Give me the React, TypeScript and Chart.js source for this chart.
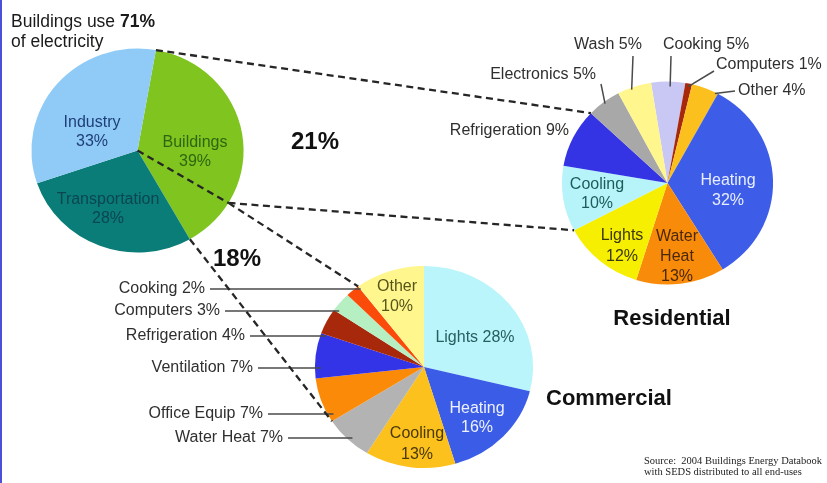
import React, { useEffect, useRef } from "react";
import { Chart, registerables } from "chart.js";

Chart.register(...registerables);

// ---------------- data ----------------
const electricityCategories = ["Buildings", "Transportation", "Industry"];
const electricityValues = [39, 28, 33];
const buildingsShare = 71;
const residentialShare = 21;
const commercialShare = 18;

const residentialCategories = [
  "Cooking", "Computers", "Other", "Heating", "Water Heat",
  "Lights", "Cooling", "Refrigeration", "Electronics", "Wash",
];
const residentialValues = [5, 1, 4, 32, 13, 12, 10, 9, 5, 5];

const commercialCategories = [
  "Lights", "Heating", "Cooling", "Water Heat", "Office Equip",
  "Ventilation", "Refrigeration", "Computers", "Cooking", "Other",
];
const commercialValues = [28, 16, 13, 7, 7, 7, 4, 3, 2, 10];

const sourceLines = [
  "Source:  2004 Buildings Energy Databook",
  "with SEDS distributed to all end-uses",
];

// ---------------- styles / layout ----------------
const W = 827;
const H = 483;
const SANS = '"Liberation Sans", Arial, Helvetica, sans-serif';
const SERIF = '"Liberation Serif", "Times New Roman", serif';

const mainColors = ["#7fc41f", "#0b7d79", "#8fcbf6"];
const residentialColors = [
  "#c9c8f4", "#a8280c", "#fbbf1e", "#3d5de8", "#f98b0a",
  "#f7ef02", "#b7f4f9", "#3434e4", "#a8a8a8", "#fff68e",
];
const commercialColors = [
  "#b9f5fa", "#3b5ce6", "#fcc11c", "#b3b3b3", "#fa8a08",
  "#3333e8", "#a8280c", "#b6efc2", "#fb4b0a", "#fff68e",
];

type Geom = { cx: number; cy: number; r: number; sx: number; rotation: number };
const mainGeom: Geom = { cx: 137.5, cy: 150.5, r: 102, sx: 1.04, rotation: 10 };
const resGeom: Geom = { cx: 667.5, cy: 183, r: 101.5, sx: 1.04, rotation: -9 };
const comGeom: Geom = { cx: 424, cy: 367, r: 101, sx: 1.08, rotation: 0 };

// fraction of the Buildings slice where the residential / commercial split line sits
const buildingsSplitFrac = 0.79;

type Inside = { x: number; y: number; lh: number; color: string; mode: "stack" | "line" | "words" };
type Outside = {
  x: number; y: number; align: CanvasTextAlign;
  leader?: { fx: number; fy: number; frac: number; inset: number };
  horizontal?: boolean;
};

const mainInside: Record<string, Inside> = {
  Industry: { x: 92, y: 132.5, lh: 19, color: "#1f3f78", mode: "stack" },
  Buildings: { x: 195, y: 152, lh: 18.5, color: "#2e6610", mode: "stack" },
  Transportation: { x: 108, y: 209, lh: 18.5, color: "#0a4650", mode: "stack" },
};

const resInside: Record<string, Inside> = {
  Heating: { x: 728, y: 191, lh: 20, color: "#e8eeff", mode: "stack" },
  Cooling: { x: 597, y: 194.5, lh: 19, color: "#1b5c5c", mode: "stack" },
  Lights: { x: 622, y: 246, lh: 21, color: "#3a3810", mode: "stack" },
  "Water Heat": { x: 677, y: 257, lh: 20, color: "#4a2808", mode: "words" },
};
const resOutside: Record<string, Outside> = {
  Refrigeration: { x: 569, y: 131, align: "right" },
  Electronics: { x: 596, y: 75, align: "right", leader: { fx: 601, fy: 84, frac: 0.5, inset: 2 } },
  Wash: { x: 608, y: 45, align: "center", leader: { fx: 633, fy: 56, frac: 0.4, inset: 2 } },
  Cooking: { x: 663, y: 45, align: "left", leader: { fx: 671, fy: 56, frac: 0.56, inset: 5 } },
  Computers: { x: 716, y: 65, align: "left", leader: { fx: 714, fy: 71, frac: 0.5, inset: 3 } },
  Other: { x: 738, y: 91, align: "left", leader: { fx: 735, fy: 91, frac: 0.9, inset: 1 } },
};

const comInside: Record<string, Inside> = {
  Other: { x: 397, y: 297, lh: 20, color: "#55551a", mode: "stack" },
  Lights: { x: 475, y: 338, lh: 20, color: "#285e60", mode: "line" },
  Heating: { x: 477, y: 418.5, lh: 19, color: "#eef2ff", mode: "stack" },
  Cooling: { x: 417, y: 444.5, lh: 21, color: "#4a3808", mode: "stack" },
};
const comOutside: Record<string, Outside> = {
  Cooking: { x: 205, y: 289, align: "right", horizontal: true },
  Computers: { x: 220, y: 311, align: "right", horizontal: true },
  Refrigeration: { x: 245, y: 336, align: "right", horizontal: true },
  Ventilation: { x: 253, y: 368, align: "right", horizontal: true },
  "Office Equip": { x: 263, y: 414, align: "right", horizontal: true },
  "Water Heat": { x: 283, y: 438, align: "right", horizontal: true },
};

// ---------------- helpers ----------------
type G = { cx: number; cy: number; R: number; sx: number; arcs: any[] };

function geo(chart: Chart, sx: number): G {
  const arcs = chart.getDatasetMeta(0).data as any[];
  return { cx: arcs[0].x, cy: arcs[0].y, R: arcs[0].outerRadius, sx, arcs };
}
function pointAt(g: G, angle: number, rr?: number) {
  const r = rr === undefined ? g.R : rr;
  return { x: g.cx + g.sx * r * Math.cos(angle), y: g.cy + r * Math.sin(angle) };
}
function sliceAngle(g: G, i: number, frac: number) {
  const a = g.arcs[i];
  return a.startAngle + frac * (a.endAngle - a.startAngle);
}
function drawLines(
  ctx: CanvasRenderingContext2D, lines: string[], x: number, y: number, lh: number,
  font: string, color: string, align: CanvasTextAlign = "center",
) {
  ctx.save();
  ctx.font = font;
  ctx.fillStyle = color;
  ctx.textAlign = align;
  ctx.textBaseline = "middle";
  const y0 = y - ((lines.length - 1) * lh) / 2;
  lines.forEach((t, i) => ctx.fillText(t, x, y0 + i * lh));
  ctx.restore();
}
function insideLines(name: string, value: number, mode: Inside["mode"]) {
  if (mode === "line") return [`${name} ${value}%`];
  if (mode === "words") return [...name.split(" "), `${value}%`];
  return [name, `${value}%`];
}

const ellipsePlugin = (sx: number) => ({
  id: "ellipse",
  beforeDatasetsDraw(chart: Chart) {
    const arc: any = chart.getDatasetMeta(0).data[0];
    const ctx = chart.ctx;
    ctx.save();
    ctx.translate(arc.x, 0);
    ctx.scale(sx, 1);
    ctx.translate(-arc.x, 0);
  },
  afterDatasetsDraw(chart: Chart) {
    chart.ctx.restore();
  },
});

function drawInside(ctx: CanvasRenderingContext2D, cats: string[], vals: number[], spec: Record<string, Inside>) {
  cats.forEach((c, i) => {
    const s = spec[c];
    if (!s) return;
    drawLines(ctx, insideLines(c, vals[i], s.mode), s.x, s.y, s.lh, `16px ${SANS}`, s.color);
  });
}

function drawOutside(ctx: CanvasRenderingContext2D, g: G, cats: string[], vals: number[], spec: Record<string, Outside>) {
  cats.forEach((c, i) => {
    const s = spec[c];
    if (!s) return;
    drawLines(ctx, [`${c} ${vals[i]}%`], s.x, s.y, 18, `16px ${SANS}`, "#2f2f2f", s.align);
    ctx.save();
    ctx.strokeStyle = "#4a4a4a";
    ctx.lineWidth = 1.5;
    ctx.beginPath();
    if (s.horizontal) {
      const dy = s.y - g.cy;
      const half = Math.sqrt(Math.max(g.R * g.R - dy * dy, 0)) * g.sx;
      ctx.moveTo(s.x + 5, s.y);
      ctx.lineTo(g.cx - half + 6, s.y);
      ctx.stroke();
    } else if (s.leader) {
      const p = pointAt(g, sliceAngle(g, i, s.leader.frac), g.R - s.leader.inset);
      ctx.moveTo(s.leader.fx, s.leader.fy);
      ctx.lineTo(p.x, p.y);
      ctx.stroke();
    }
    ctx.restore();
  });
}

function makePie(
  canvas: HTMLCanvasElement, gm: Geom, labels: string[], values: number[], colors: string[], plugins: any[],
) {
  const padding = {
    left: gm.cx - gm.r * gm.sx,
    right: W - gm.cx - gm.r * gm.sx,
    top: gm.cy - gm.r,
    bottom: H - gm.cy - gm.r,
  };
  return new Chart(canvas, {
    type: "pie",
    data: {
      labels,
      datasets: [
        {
          data: values,
          backgroundColor: colors,
          borderWidth: 0,
          hoverBorderWidth: 0,
          offset: 0,
          hoverOffset: 0,
          clip: false,
        } as any,
      ],
    },
    options: {
      responsive: false,
      maintainAspectRatio: false,
      animation: false,
      events: [],
      rotation: gm.rotation,
      layout: { padding },
      plugins: {
        legend: { display: false },
        tooltip: { enabled: false },
        title: { display: false },
      },
    } as any,
    plugins: [ellipsePlugin(gm.sx), ...plugins],
  });
}

const residentialPlugin = {
  id: "resLabels",
  afterDraw(chart: Chart) {
    const ctx = chart.ctx;
    const g = geo(chart, resGeom.sx);
    drawInside(ctx, residentialCategories, residentialValues, resInside);
    drawOutside(ctx, g, residentialCategories, residentialValues, resOutside);
    drawLines(ctx, ["Residential"], 672, 319, 24, `bold 22px ${SANS}`, "#111");
  },
};

const commercialPlugin = {
  id: "comLabels",
  afterDraw(chart: Chart) {
    const ctx = chart.ctx;
    const g = geo(chart, comGeom.sx);
    drawInside(ctx, commercialCategories, commercialValues, comInside);
    drawOutside(ctx, g, commercialCategories, commercialValues, comOutside);
    drawLines(ctx, ["Commercial"], 609, 399, 24, `bold 22px ${SANS}`, "#111");
  },
};

const mainPlugin = (res: Chart, com: Chart) => ({
  id: "mainLabels",
  afterDraw(chart: Chart) {
    const ctx = chart.ctx;
    const gm = geo(chart, mainGeom.sx);
    const gr = geo(res, resGeom.sx);
    const gc = geo(com, comGeom.sx);
    drawInside(ctx, electricityCategories, electricityValues, mainInside);

    // title
    ctx.save();
    ctx.textBaseline = "middle";
    ctx.textAlign = "left";
    ctx.fillStyle = "#1a1a1a";
    ctx.font = `17.5px ${SANS}`;
    const t1 = "Buildings use ";
    ctx.fillText(t1, 11, 22);
    const w1 = ctx.measureText(t1).width;
    ctx.font = `bold 17.5px ${SANS}`;
    ctx.fillText(`${buildingsShare}%`, 11 + w1, 22);
    ctx.font = `17.5px ${SANS}`;
    ctx.fillText("of electricity", 11, 42);
    ctx.restore();

    drawLines(ctx, [`${residentialShare}%`], 315, 142, 26, `bold 24px ${SANS}`, "#111");
    drawLines(ctx, [`${commercialShare}%`], 237, 259, 26, `bold 24px ${SANS}`, "#111");

    // source
    ctx.save();
    ctx.font = `10.5px ${SERIF}`;
    ctx.fillStyle = "#222";
    ctx.textAlign = "left";
    ctx.textBaseline = "middle";
    sourceLines.forEach((s, i) => ctx.fillText(s, 644, 461 + i * 11));
    ctx.restore();

    // dashed connectors
    const b = gm.arcs[0];
    const bStart = pointAt(gm, b.startAngle);
    const bEnd = pointAt(gm, b.endAngle);
    const split = pointAt(gm, sliceAngle(gm, 0, buildingsSplitFrac));
    const resTop = pointAt(gr, gr.arcs[residentialCategories.indexOf("Electronics")].startAngle);
    const resBottom = pointAt(gr, gr.arcs[residentialCategories.indexOf("Cooling")].startAngle);
    const comTop = pointAt(gc, gc.arcs[commercialCategories.indexOf("Other")].startAngle);
    const comBottom = pointAt(gc, gc.arcs[commercialCategories.indexOf("Office Equip")].startAngle);
    const segs = [
      [bStart, resTop],
      [split, resBottom],
      [{ x: gm.cx, y: gm.cy }, split],
      [split, comTop],
      [bEnd, comBottom],
    ];
    ctx.save();
    ctx.strokeStyle = "#262626";
    ctx.lineWidth = 2.3;
    ctx.setLineDash([7, 4.5]);
    segs.forEach(([p, q]) => {
      ctx.beginPath();
      ctx.moveTo(p.x, p.y);
      ctx.lineTo(q.x, q.y);
      ctx.stroke();
    });
    ctx.restore();
  },
});

export default function App() {
  const mainRef = useRef<HTMLCanvasElement>(null);
  const resRef = useRef<HTMLCanvasElement>(null);
  const comRef = useRef<HTMLCanvasElement>(null);

  useEffect(() => {
    document.body.style.margin = "0";
    const com = makePie(comRef.current!, comGeom, commercialCategories, commercialValues, commercialColors, [commercialPlugin]);
    const res = makePie(resRef.current!, resGeom, residentialCategories, residentialValues, residentialColors, [residentialPlugin]);
    const main = makePie(mainRef.current!, mainGeom, electricityCategories, electricityValues, mainColors, [mainPlugin(res, com)]);
    return () => {
      main.destroy();
      res.destroy();
      com.destroy();
    };
  }, []);

  const cs: React.CSSProperties = { position: "absolute", left: 0, top: 0, width: W, height: H };
  return (
    <div style={{ position: "relative", width: W, height: H, background: "#fff", overflow: "hidden" }}>
      <canvas ref={comRef} width={W} height={H} style={cs} />
      <canvas ref={resRef} width={W} height={H} style={cs} />
      <canvas ref={mainRef} width={W} height={H} style={cs} />
      <div style={{ position: "absolute", left: 0, top: 0, width: 2, height: H, background: "#4b50d6" }} />
    </div>
  );
}
